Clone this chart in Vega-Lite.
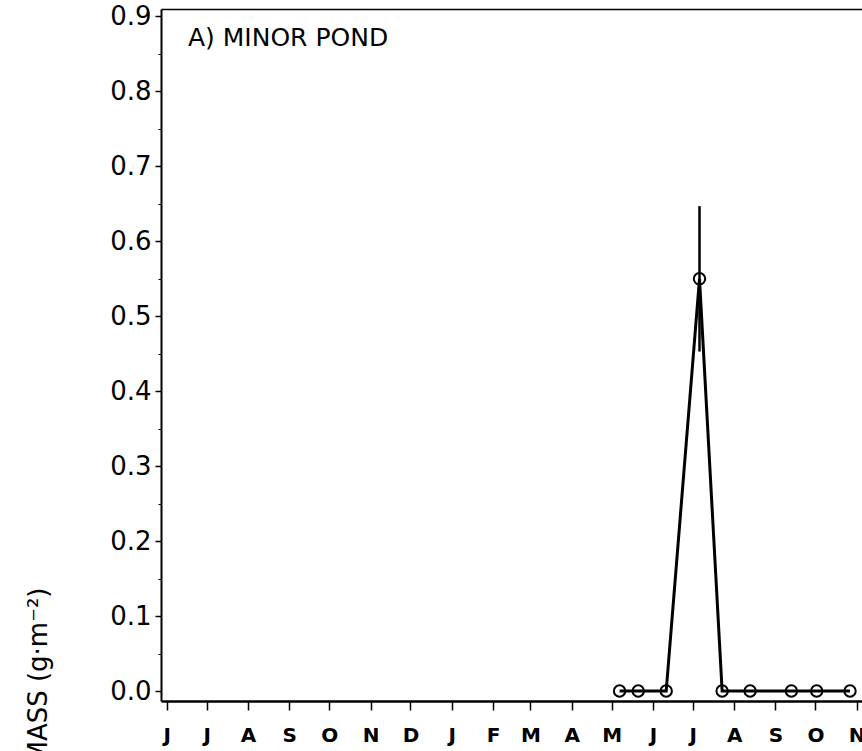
{
  "$schema": "https://vega.github.io/schema/vega-lite/v6.json",
  "width": 701,
  "height": 692,
  "autosize": {"type": "none"},
  "padding": {"left": 161, "top": 9, "right": 0, "bottom": 50},
  "background": "white",
  "config": {
    "view": {"stroke": null},
    "axis": {"domainColor": "black", "tickColor": "black", "labelColor": "black", "titleColor": "black", "labelFont": "DejaVu Sans", "titleFont": "DejaVu Sans", "grid": false}
  },
  "title": {"text": "A) MINOR POND", "anchor": "start", "frame": "group", "orient": "top", "font": "DejaVu Sans", "fontSize": 25, "fontWeight": "normal", "color": "black", "baseline": "alphabetic", "offset": 0, "dx": 27, "dy": 68},
  "data": {
    "values": [
      {"date": "1991-05-07", "biomass": 0},
      {"date": "1991-05-21", "biomass": 0},
      {"date": "1991-06-11", "biomass": 0},
      {"date": "1991-07-06", "biomass": 0.55, "lo": 0.453, "hi": 0.647},
      {"date": "1991-07-23", "biomass": 0},
      {"date": "1991-08-13", "biomass": 0},
      {"date": "1991-09-13", "biomass": 0},
      {"date": "1991-10-02", "biomass": 0},
      {"date": "1991-10-27", "biomass": 0}
    ]
  },
  "layer": [
    {
      "mark": {"type": "line", "color": "black", "strokeWidth": 3},
      "encoding": {
        "x": {
          "field": "date", "type": "temporal",
          "scale": {"type": "utc", "domain": [{"year": 1990, "month": 5, "date": 27, "hours": 17, "utc": true}, {"year": 1991, "month": 11, "date": 5, "utc": true}]},
          "axis": {"orient": "bottom", "title": null, "tickCount": {"interval": "month", "step": 1}, "labelExpr": "upper(slice(utcFormat(datum.value, '%b'), 0, 1))", "domainWidth": 2.5, "tickSize": 9, "tickWidth": 1.5, "labelFontSize": 20, "labelFontWeight": "bold", "labelPadding": 15, "labelFlush": false, "labelOverlap": false, "labelAlign": "center", "labelBaseline": "top"}
        },
        "y": {
          "field": "biomass", "type": "quantitative",
          "scale": {"domain": [-0.0133, 0.91], "nice": false, "zero": false},
          "axis": {"orient": "left", "title": "BIOMASS  (g·m⁻²)", "values": [0, 0.1, 0.2, 0.3, 0.4, 0.5, 0.6, 0.7, 0.8, 0.9], "format": ".1f", "labelFontSize": 26, "labelPadding": 4, "tickSize": 6, "tickWidth": 1.5, "domainWidth": 2, "titleFontSize": 26, "titleFontWeight": "normal", "titleAlign": "left", "titleAngle": 270, "titleX": -115, "titleY": 800, "titleBaseline": "alphabetic"}
        }
      }
    },
    {
      "mark": {"type": "point", "shape": "circle", "filled": false, "color": "black", "strokeWidth": 2, "size": 130, "opacity": 1},
      "encoding": {
        "x": {
          "field": "date", "type": "temporal",
          "scale": {"type": "utc", "domain": [{"year": 1990, "month": 5, "date": 27, "hours": 17, "utc": true}, {"year": 1991, "month": 11, "date": 5, "utc": true}]},
          "axis": {"orient": "top", "labels": false, "ticks": false, "title": null, "domainWidth": 1.5}
        },
        "y": {
          "field": "biomass", "type": "quantitative",
          "scale": {"domain": [-0.0133, 0.91], "nice": false, "zero": false},
          "axis": {"orient": "left", "values": [0.05, 0.15, 0.25, 0.35, 0.45, 0.55, 0.65, 0.75, 0.85], "labels": false, "domain": false, "tickSize": 3, "tickWidth": 1, "title": null}
        }
      }
    },
    {
      "transform": [{"filter": "datum.lo != null"}],
      "mark": {"type": "rule", "color": "black", "strokeWidth": 2.5},
      "encoding": {
        "x": {
          "field": "date", "type": "temporal", "axis": null,
          "scale": {"type": "utc", "domain": [{"year": 1990, "month": 5, "date": 27, "hours": 17, "utc": true}, {"year": 1991, "month": 11, "date": 5, "utc": true}]}
        },
        "y": {
          "field": "lo", "type": "quantitative", "axis": null,
          "scale": {"domain": [-0.0133, 0.91], "nice": false, "zero": false}
        },
        "y2": {"field": "hi"}
      }
    }
  ],
  "resolve": {"axis": {"x": "independent", "y": "independent"}}
}
